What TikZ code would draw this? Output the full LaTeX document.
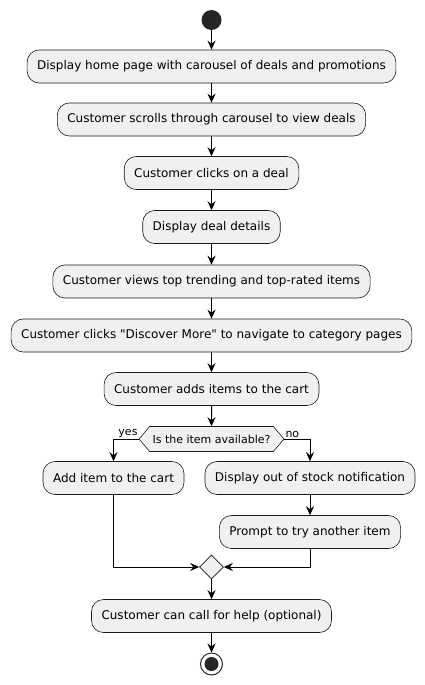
\documentclass[tikz,border=0pt]{standalone}
\usepackage{fontspec}
\setmainfont{DejaVu Sans}
\usetikzlibrary{arrows.meta,shapes.geometric,shapes.symbols}
\tikzset{>={Stealth[length=9,width=8,inset=3]}}
\colorlet{actfill}{black!6}
\colorlet{actline}{black!90}
\tikzstyle{action}=[draw=actline,fill=actfill,line width=0.6,rounded corners=12,minimum height=33,inner xsep=10,font=\fontsize{12}{14}\selectfont]
\tikzstyle{decision}=[draw=actline,fill=actfill,line width=0.6,signal,signal to=west and east,signal pointer angle=100,minimum height=25,inner xsep=3,font=\fontsize{11}{13}\selectfont]
\tikzstyle{merge}=[draw=actline,fill=actfill,line width=0.6,diamond,minimum size=24,inner sep=0]
\tikzstyle{flow}=[->,line width=1]
\tikzstyle{guard}=[font=\fontsize{11}{13}\selectfont,inner sep=1]

\begin{document}
\begin{tikzpicture}[x=1pt,y=-1pt]
  \useasboundingbox (0,0) rectangle (424,685);

  \node[circle,fill=black!85,minimum size=20,inner sep=0] (start) at (211.5,20) {};
  \node[action] (home) at (211.5,66.5) {Display home page with carousel of deals and promotions};
  \node[action] (scroll) at (211.5,119.5) {Customer scrolls through carousel to view deals};
  \node[action] (click) at (211.5,173) {Customer clicks on a deal};
  \node[action] (details) at (211.5,227) {Display deal details};
  \node[action] (trend) at (211.5,281.5) {Customer views top trending and top-rated items};
  \node[action] (discover) at (211.5,335.5) {Customer clicks \textquotedbl Discover More\textquotedbl{} to navigate to category pages};
  \node[action] (addcart) at (211.5,389) {Customer adds items to the cart};
  \node[decision] (avail) at (211.5,439) {Is the item available?};

  % branches
  \node[action] (additem) at (113.5,478) {Add item to the cart};
  \node[action] (oos) at (310,478) {Display out of stock notification};
  \node[action] (prompt) at (310,532) {Prompt to try another item};
  \node[merge] (join) at (211.5,567) {};

  \node[action] (help) at (211.5,616) {Customer can call for help (optional)};
  \node[circle,draw=black!85,line width=1,minimum size=22,inner sep=0] (stop) at (211.5,664) {};
  \node[circle,fill=black!85,minimum size=14,inner sep=0] (stopdot) at (stop) {};

  \draw[flow] (start) -- (home);
  \draw[flow] (home) -- (scroll);
  \draw[flow] (scroll) -- (click);
  \draw[flow] (click) -- (details);
  \draw[flow] (details) -- (trend);
  \draw[flow] (trend) -- (discover);
  \draw[flow] (discover) -- (addcart);
  \draw[flow] (addcart) -- (avail);

  \draw[flow] (avail.west) -| (additem);
  \draw[flow] (avail.east) -| (oos);
  \node[guard,anchor=south east] at (avail.west) {yes};
  \node[guard,anchor=south west] at (avail.east) {no};
  \draw[flow] (oos) -- (prompt);

  \draw[flow] (additem) |- (join);
  \draw[flow] (prompt) |- (join);
  \draw[flow] (join) -- (help);
  \draw[flow] (help) -- (stop);
\end{tikzpicture}
\end{document}
